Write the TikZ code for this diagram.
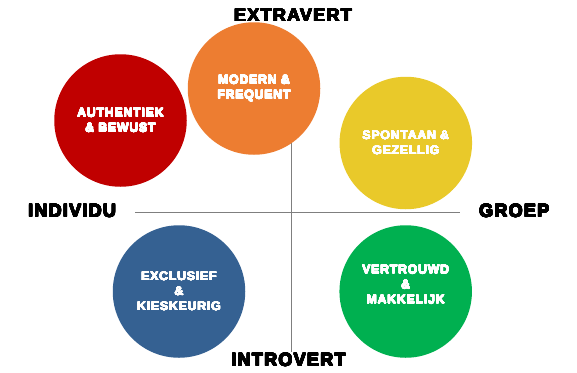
\documentclass[tikz,border=0pt]{standalone}
\usepackage{fontspec}
\usepackage{contour}
\setmainfont{Liberation Sans}[BoldFont={Liberation Sans Bold}]
\newfontfamily\axisfont{Liberation Sans Bold}[LetterSpace=7]
\newfontfamily\bubblefont{Liberation Sans Bold}[LetterSpace=7]
\contournumber{24}
\newcommand\axc[1]{\contourlength{0.4pt}\contour{black}{#1}}
\newcommand\bbc[1]{\contourlength{0.22pt}\contour{white}{#1}}
\definecolor{cred}{HTML}{C00000}
\definecolor{corange}{HTML}{ED7D31}
\definecolor{cyellow}{HTML}{E9C92A}
\definecolor{cblue}{HTML}{356192}
\definecolor{cgreen}{HTML}{00B050}
\definecolor{caxis}{HTML}{7F7F7F}
\begin{document}
\begin{tikzpicture}[x=1pt,y=-1pt,
  bubble/.style={circle,minimum size=132.5pt,inner sep=0pt,text=white,
    font=\bubblefont\fontsize{12.2}{15}\selectfont,align=center},
  bubbletext/.style={text=white,font=\bubblefont\fontsize{12.2}{15}\selectfont,align=center,inner sep=0pt},
  axislabel/.style={font=\axisfont\fontsize{18}{20}\selectfont,text=black,inner sep=0pt},
  axisline/.style={draw=caxis,line width=1pt}]
\useasboundingbox (0,0) rectangle (577,372);
\fill[white] (0,0) rectangle (577,372);
% axes
\coordinate (vtop) at (291,143);
\coordinate (vbot) at (291,352);
\coordinate (hleft) at (135,212);
\coordinate (hright) at (460,212);
\draw[axisline] (vtop) -- (vbot);
\draw[axisline] (hleft) -- (hright);
% bubbles
\node[bubble,fill=cred] (red) at (120.5,120.5) {\bbc{AUTHENTIEK}\\\bbc{\& BEWUST}};
\node[bubble,fill=corange] (orange) at (254,88.5) {\bbc{MODERN \&}\\\bbc{FREQUENT}};
\node[bubble,fill=cyellow] (yellow) at (405.8,143) {\bbc{SPONTAAN \&}\\\bbc{GEZELLIG}};
\node[bubble,fill=cblue] (blue) at (179,291.5) {\bbc{EXCLUSIEF}\\\bbc{\&}\\\bbc{KIESKEURIG}};
\node[bubble,fill=cgreen] (green) at (405.7,291.5) {};
\node[bubbletext] (greentext) at (405.7,284.7) {\bbc{VERTROUWD}\\\bbc{\&}\\\bbc{MAKKELIJK}};
% axis labels
\node[axislabel] (extra) at (293,15.5) {\axc{EXTRAVERT}};
\node[axislabel] (intro) at (288.5,360) {\axc{INTROVERT}};
\node[axislabel,anchor=west] (indiv) at (28,211) {\axc{INDIVIDU}};
\node[axislabel,anchor=west] (groep) at (479,211) {\axc{GROEP}};
\end{tikzpicture}
\end{document}
